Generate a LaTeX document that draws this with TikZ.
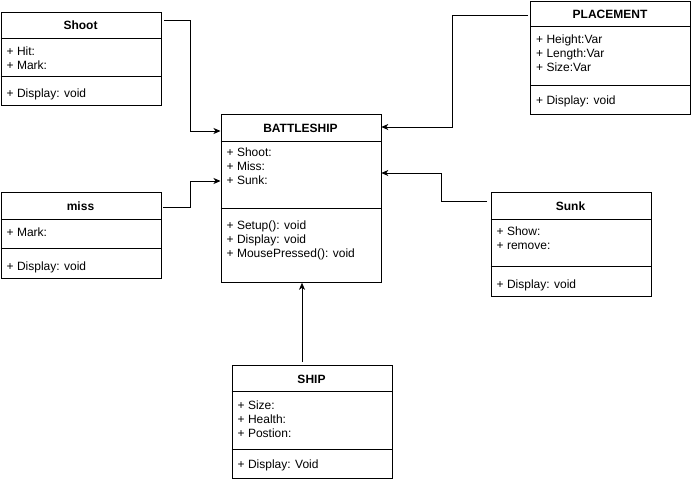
\documentclass[tikz,border=0pt]{standalone}
\usepackage{fontspec}
\setmainfont{Liberation Sans}
\usetikzlibrary{arrows.meta}

\begin{document}
\begin{tikzpicture}[x=1pt,y=-1pt,
  classbox/.style={draw=black, line width=0.8pt, anchor=north west, inner sep=0pt},
  sepline/.style={draw=black, line width=0.8pt},
  hdr/.style={font=\fontsize{12}{14}\selectfont\bfseries, anchor=base, inner sep=0pt},
  members/.style={font=\fontsize{12}{14}\selectfont, align=left, anchor=north west,
                  inner sep=0pt, execute at begin node=\strut},
  conn/.style={draw=black, line width=0.8pt, -{Stealth[length=7pt,width=6pt,inset=2pt]}}]

\useasboundingbox (0,0) rectangle (691,482);

% ---- Shoot ----
\node[classbox, minimum width=160pt, minimum height=93pt] (shoot) at (0.5,12) {};
\draw[sepline] (0.5,38) -- (160.5,38);
\draw[sepline] (0.5,76) -- (160.5,76);
\node[hdr] (shootH) at (80.5,29.3) {Shoot};
\node[members] (shootA) at (6.5,46.5) {+ Hit:\\+ Mark:};
\node[members] (shootM) at (6.5,87.5) {+ Display: void};

% ---- PLACEMENT ----
\node[classbox, minimum width=160pt, minimum height=113pt] (place) at (530,1) {};
\draw[sepline] (530,26) -- (690,26);
\draw[sepline] (530,85) -- (690,85);
\node[hdr] (placeH) at (610,18.3) {PLACEMENT};
\node[members] (placeA) at (536,34.5) {+ Height:Var\\+ Length:Var\\+ Size:Var};
\node[members] (placeM) at (536,94.5) {+ Display: void};

% ---- BATTLESHIP ----
\node[classbox, minimum width=160pt, minimum height=168pt] (bship) at (220.5,114) {};
\draw[sepline] (220.5,141) -- (380.5,141);
\draw[sepline] (220.5,208) -- (380.5,208);
\node[hdr] (bshipH) at (300.5,132.3) {BATTLESHIP};
\node[members] (bshipA) at (226.5,147.5) {+ Shoot:\\+ Miss:\\+ Sunk:};
\node[members] (bshipM) at (226.5,220.5) {+ Setup(): void\\+ Display: void\\+ MousePressed(): void};

% ---- miss ----
\node[classbox, minimum width=160pt, minimum height=86pt] (miss) at (0.5,192) {};
\draw[sepline] (0.5,219) -- (160.5,219);
\draw[sepline] (0.5,248) -- (160.5,248);
\node[hdr] (missH) at (80.5,210.3) {miss};
\node[members] (missA) at (6.5,226.5) {+ Mark:};
\node[members] (missM) at (6.5,260.5) {+ Display: void};

% ---- Sunk ----
\node[classbox, minimum width=160pt, minimum height=104pt] (sunk) at (490.5,192) {};
\draw[sepline] (490.5,219) -- (650.5,219);
\draw[sepline] (490.5,266) -- (650.5,266);
\node[hdr] (sunkH) at (570.5,210.3) {Sunk};
\node[members] (sunkA) at (496.5,226.5) {+ Show:\\+ remove:};
\node[members] (sunkM) at (496.5,278.5) {+ Display: void};

% ---- SHIP ----
\node[classbox, minimum width=160pt, minimum height=113pt] (ship) at (231.5,365) {};
\draw[sepline] (231.5,391) -- (391.5,391);
\draw[sepline] (231.5,449) -- (391.5,449);
\node[hdr] (shipH) at (311.5,383.3) {SHIP};
\node[members] (shipA) at (237.5,400.5) {+ Size:\\+ Health:\\+ Postion:};
\node[members] (shipM) at (237.5,458.5) {+ Display: Void};

% ---- associations into BATTLESHIP ----
\coordinate (s1) at (164,20);
\coordinate (s2) at (528,15);
\coordinate (s3) at (163,207);
\coordinate (s4) at (487,201);
\coordinate (s5) at (302,362);

\draw[conn] (s1) -| ([xshift=-30pt,yshift=-17pt]bship.north west) -- ([yshift=-17pt]bship.north west);
\draw[conn] (s2) -| ([xshift=71pt,yshift=-13pt]bship.north east) -- ([yshift=-13pt]bship.north east);
\draw[conn] (s3) -| ([xshift=-30pt,yshift=-67pt]bship.north west) -- ([yshift=-67pt]bship.north west);
\draw[conn] (s4) -| ([xshift=60pt,yshift=-59pt]bship.north east) -- ([yshift=-59pt]bship.north east);
\draw[conn] (s5) -- (s5 |- bship.south);

\end{tikzpicture}
\end{document}
